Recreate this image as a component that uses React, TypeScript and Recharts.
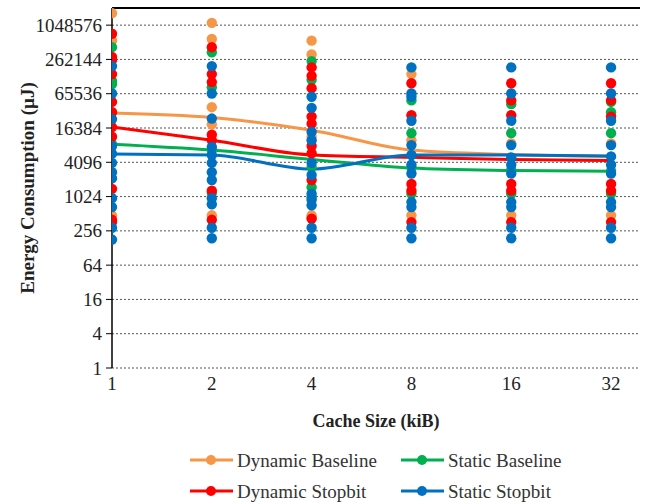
import React from "react";
import {
  ComposedChart,
  Scatter,
  Line,
  XAxis,
  YAxis,
  ZAxis,
  CartesianGrid,
  ReferenceLine,
  Label,
} from "recharts";

const cacheSizes = ["1", "2", "4", "8", "16", "32"];
const yTicks = [1, 4, 16, 64, 256, 1024, 4096, 16384, 65536, 262144, 1048576];

// individual measurements per cache size (µJ)
const dynBaselinePts = [
  [1700000, 560000, 31000, 480],
  [1150000, 600000, 38000, 19000, 480],
  [560000, 320000, 11500, 480, 430],
  [145000, 10000, 480],
  [8800, 480],
  [8800, 480],
];
const staBaselinePts = [
  [430000, 110000, 97000, 8500],
  [350000, 85000, 6700, 1180],
  [245000, 115000, 3400, 1500, 1000],
  [50000, 13300, 3300, 1150],
  [43000, 13300, 3000, 1150],
  [47000, 31000, 13300, 2900, 1150],
];
const dynStopbitPts = [
  [740000, 290000, 255000, 145000, 47000, 31000, 17000, 11500, 1400, 400, 365],
  [430000, 145000, 105000, 12500, 10000, 1300, 400],
  [190000, 135000, 82000, 26000, 19500, 7900, 5900, 2000, 420],
  [100000, 27500, 1700, 1300, 365],
  [100000, 50000, 27500, 1700, 1300, 365],
  [100000, 50000, 26000, 1700, 1300, 365],
];
const staStopbitPts = [
  [200000, 66000, 23500, 7900, 5800, 4000, 2750, 2150, 960, 670, 290, 180],
  [200000, 66000, 24000, 7600, 5500, 4000, 2750, 2000, 960, 750, 290, 190],
  [58000, 37000, 14000, 10000, 4000, 2450, 1150, 900, 720, 290, 190],
  [190000, 66000, 58000, 22000, 8200, 5500, 3700, 2600, 820, 670, 290, 190],
  [190000, 66000, 22000, 8200, 5000, 3700, 2600, 820, 670, 290, 190],
  [190000, 66000, 22000, 8200, 5200, 3700, 2600, 820, 670, 290, 190],
];

// averages (smoothed lines)
const dynBaselineAvg = [30000, 25000, 15000, 6700, 5600, 5200];
const staBaselineAvg = [8500, 6700, 4600, 3250, 2950, 2850];
const dynStopbitAvg = [17000, 10000, 5500, 5000, 4600, 4400];
const staStopbitAvg = [5700, 5500, 3100, 5500, 5500, 5300];

const series = [
  { name: "Dynamic Baseline", color: "#F79646", pts: dynBaselinePts, avg: dynBaselineAvg },
  { name: "Static Baseline", color: "#00B050", pts: staBaselinePts, avg: staBaselineAvg },
  { name: "Dynamic Stopbit", color: "#FF0000", pts: dynStopbitPts, avg: dynStopbitAvg },
  { name: "Static Stopbit", color: "#0070C0", pts: staStopbitPts, avg: staStopbitAvg },
];

const toPoints = (cols: number[][]) => cols.flatMap((vals, i) => vals.map((y) => ({ x: i, y })));
const toLine = (avg: number[]) => avg.map((y, i) => ({ x: i, y }));

const FONT = "'Liberation Serif', serif";
const txt = (size: number, bold = false) => ({
  fontFamily: FONT,
  fontSize: size,
  fontWeight: bold ? 700 : 400,
});

const XTick = (props: any) => {
  const { x, y, payload } = props;
  return (
    <text x={x} y={y + 8} textAnchor="middle" fill="#222" style={txt(19)}>
      {cacheSizes[payload.value]}
    </text>
  );
};

const YTick = (props: any) => {
  const { x, y, payload } = props;
  return (
    <text x={x} y={y} textAnchor="end" dominantBaseline="central" fill="#222" style={txt(19)}>
      {payload.value}
    </text>
  );
};

function LegendBox() {
  const items = [
    { s: series[0], x: 190, y: 460 },
    { s: series[1], x: 401, y: 460 },
    { s: series[2], x: 190, y: 491 },
    { s: series[3], x: 401, y: 491 },
  ];
  return (
    <svg width={652} height={504} style={{ position: "absolute", left: 0, top: 0, pointerEvents: "none" }}>
      {items.map(({ s, x, y }) => (
        <g key={s.name}>
          <line x1={x} x2={x + 43} y1={y} y2={y} stroke={s.color} strokeWidth={3} />
          <circle cx={x + 21} cy={y} r={5} fill={s.color} />
          <text x={x + 47} y={y} dominantBaseline="central" fill="#333" style={txt(19)}>
            {s.name}
          </text>
        </g>
      ))}
    </svg>
  );
}

export default function App() {
  return (
    <div style={{ position: "absolute", left: 0, top: 0, width: 652, height: 504, background: "#fff", fontFamily: FONT }}>
      <ComposedChart
        width={652}
        height={504}
        margin={{ top: 8, right: 12, bottom: 66, left: 0 }}
        style={{ fontFamily: FONT }}
      >
        <CartesianGrid vertical={false} stroke="#555" strokeDasharray="2 2" />
        <XAxis
          type="number"
          dataKey="x"
          domain={[0, 5.29]}
          ticks={[0, 1, 2, 3, 4, 5]}
          allowDataOverflow
          axisLine={false}
          tickLine={false}
          tickMargin={8}
          height={70}
          tick={<XTick />}
        >
          <Label
            content={(props: any) => {
              const vb = props.viewBox || { x: 112, y: 368, width: 528, height: 70 };
              return (
                <text
                  x={vb.x + vb.width / 2}
                  y={vb.y + 53}
                  textAnchor="middle"
                  dominantBaseline="central"
                  fill="#222"
                  style={txt(18, true)}
                >
                  Cache Size (kiB)
                </text>
              );
            }}
          />
        </XAxis>
        <YAxis
          type="number"
          dataKey="y"
          scale="log"
          domain={[1, 2097152]}
          ticks={yTicks}
          allowDataOverflow
          width={112}
          axisLine={{ stroke: "#000", strokeWidth: 1.5 }}
          tickLine={{ stroke: "#000" }}
          tickSize={6}
          tickMargin={4}
          tick={<YTick />}
        >
          <Label
            content={(props: any) => {
              const vb = props.viewBox || { x: 0, y: 8, width: 112, height: 360 };
              const cx = vb.x + 27;
              const cy = vb.y + vb.height / 2;
              return (
                <text
                  x={cx}
                  y={cy}
                  transform={`rotate(-90, ${cx}, ${cy})`}
                  textAnchor="middle"
                  dominantBaseline="central"
                  fill="#222"
                  style={txt(19, true)}
                >
                  Energy Consumption (µJ)
                </text>
              );
            }}
          />
        </YAxis>
        <ZAxis range={[85, 85]} />
        <ReferenceLine y={2097152} stroke="#000" strokeWidth={2} />
        {series.map((s) => (
          <Scatter
            key={"p-" + s.name}
            name={s.name}
            data={toPoints(s.pts)}
            fill={s.color}
            shape="circle"
            isAnimationActive={false}
          />
        ))}
        {series.map((s) => (
          <Line
            key={"l-" + s.name}
            name={s.name + " avg"}
            data={toLine(s.avg)}
            dataKey="y"
            type="monotone"
            stroke={s.color}
            strokeWidth={3}
            dot={false}
            isAnimationActive={false}
          />
        ))}
      </ComposedChart>
      <LegendBox />
    </div>
  );
}
